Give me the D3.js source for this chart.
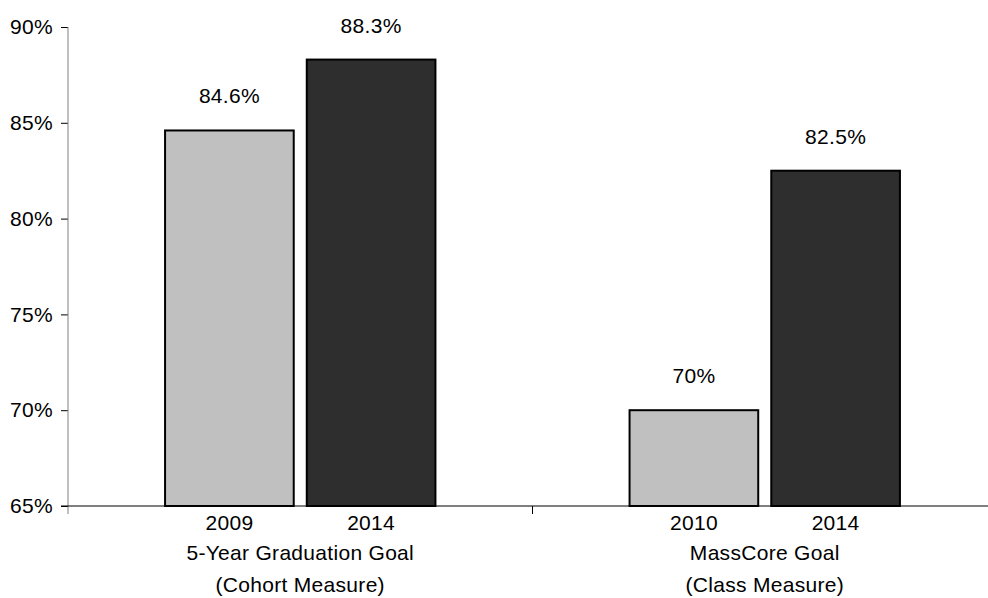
<!DOCTYPE html>
<html>
<head>
<meta charset="utf-8">
<script src="https://cdn.jsdelivr.net/npm/d3@7"></script>
<style>
	body { margin: 0; background: #fff; }
	svg text { font-family: "Liberation Sans", Arial, sans-serif; font-size: 21px; fill: #000; letter-spacing: 0.3px; }
</style>
</head>
<body>
<div id="chart"></div>
<script>
const groups = ['5-Year Graduation Goal', 'MassCore Goal'];
const groupNotes = ['(Cohort Measure)', '(Class Measure)'];
const baselineYears = ['2009', '2010'];
const targetYears = ['2014', '2014'];
const baselineValues = [84.6, 70];
const targetValues = [88.3, 82.5];
const yTicks = [65, 70, 75, 80, 85, 90];

const w = 988;
const h = 598;
const padL = 68, padT = 27, axisY = 506, axisEnd = 997;

const svg = d3.select('#chart')
	.append('svg')
	.attr('width', w)
	.attr('height', h);

const yScale = d3.scaleLinear().domain([65, 90]).range([axisY, padT]);
const x0 = d3.scaleBand().domain(groups).range([padL, axisEnd]);
const x1 = d3.scaleBand().domain([0, 1]).range([0, x0.bandwidth()])
	.paddingInner(0.092).paddingOuter(0.685);

let bars = [];
groups.forEach((g, i) => {
	bars.push({ group: g, s: 0, year: baselineYears[i], value: baselineValues[i] });
	bars.push({ group: g, s: 1, year: targetYears[i], value: targetValues[i] });
});
const colors = ['#c0c0c0', '#2e2e2e'];

// y axis
const yAxis = d3.axisLeft(yScale).tickValues(yTicks).tickSize(7).tickPadding(8)
	.tickFormat(d => d + '%');
const gy = svg.append('g')
	.attr('transform', `translate(${padL}, 0)`)
	.call(yAxis);
gy.select('.domain').remove();
gy.selectAll('.tick line').attr('stroke', '#000');
gy.selectAll('.tick text').style('font-size', '21px').style('font-family', '"Liberation Sans", Arial, sans-serif');
gy.append('line')
	.attr('x1', 0).attr('x2', 0)
	.attr('y1', padT).attr('y2', axisY + 8)
	.attr('stroke', '#808080');

// x axis line + boundary ticks
svg.append('line')
	.attr('x1', padL - 7).attr('x2', w)
	.attr('y1', axisY).attr('y2', axisY)
	.attr('stroke', '#000');
svg.selectAll('.xtick')
	.data(groups.slice(1))
	.enter()
	.append('line')
	.attr('x1', d => x0(d)).attr('x2', d => x0(d))
	.attr('y1', axisY).attr('y2', axisY + 8)
	.attr('stroke', '#000');

// bars
svg.selectAll('rect.bar')
	.data(bars)
	.enter()
	.append('rect')
	.attr('class', 'bar')
	.attr('x', d => x0(d.group) + x1(d.s))
	.attr('y', d => yScale(d.value))
	.attr('width', x1.bandwidth())
	.attr('height', d => yScale(65) - yScale(d.value))
	.attr('fill', d => colors[d.s])
	.attr('stroke', '#000')
	.attr('stroke-width', 2);

// value labels
svg.selectAll('text.val')
	.data(bars)
	.enter()
	.append('text')
	.attr('class', 'val')
	.attr('x', d => x0(d.group) + x1(d.s) + x1.bandwidth() / 2)
	.attr('y', d => yScale(d.value) - 27)
	.attr('text-anchor', 'middle')
	.text(d => d.value + '%');

// year labels
svg.selectAll('text.year')
	.data(bars)
	.enter()
	.append('text')
	.attr('class', 'year')
	.attr('x', d => x0(d.group) + x1(d.s) + x1.bandwidth() / 2)
	.attr('y', 530)
	.attr('text-anchor', 'middle')
	.text(d => d.year);

// group labels
groups.forEach((g, i) => {
	const cx = x0(g) + x0.bandwidth() / 2;
	svg.append('text').attr('x', cx).attr('y', 560).attr('text-anchor', 'middle').text(g);
	svg.append('text').attr('x', cx).attr('y', 592).attr('text-anchor', 'middle').text(groupNotes[i]);
});
</script>
</body>
</html>
